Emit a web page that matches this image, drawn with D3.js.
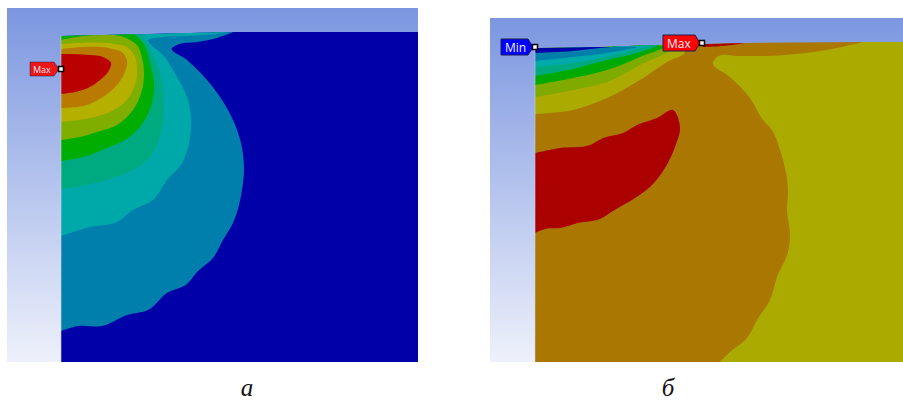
<!DOCTYPE html>
<html>
<head>
  <meta charset="utf-8">
  <title>contours</title>
  <script src="https://cdn.jsdelivr.net/npm/d3@7"></script>
  <style type="text/css">
    html, body { margin: 0; padding: 0; background: white; }
    svg { display: block; }
  </style>
</head>
<body>
<script>
// contour band outlines, in model units (depth axis runs down)
var aPlate = [[0,4],[172,0],[357,0],[357,330],[0,330]];
var aBlue2 = [[0,4],[89,2],[172,0],[156,6],[136,10],[116,13],[111,16],[126,28],[146,48],[159,65],[172,88],[180,111],[183,138],[181,158],[172,191],[162,208],[152,226],[136,240],[126,252],[106,261],[87,278],[66,283],[41,294],[17,294],[0,299]];
var aTeal = [[0,4],[89,2],[167,0],[159,1.5],[132,3.5],[102,5],[87,8],[102,23],[116,45],[126,65],[130,85],[129,105],[121,131],[106,148],[92,168],[72,178],[56,190],[29,195],[0,204]];
var aTealGreen = [[0,4],[79,2],[86,11],[97,35],[102,58],[103,85],[99,105],[89,125],[72,138],[52,146],[26,153],[0,157]];
var aGreen = [[0,4],[74,3],[82,11],[89,31],[93,51],[91,71],[82,91],[67,106],[46,116],[22,125],[0,129]];
var aYellowGreen = [[0,8],[67,7],[76,13],[81,26],[83,40],[81,58],[72,78],[56,93],[36,100],[19,105],[0,108]];
var aYellow = [[0,12],[54,12],[66,15],[73,23],[76,33],[76,43],[72,58],[64,70],[49,80],[29,86],[0,90]];
var aOrange = [[0,17],[52,17],[62,21],[66,28],[64,40],[56,53],[42,65],[26,73],[0,76]];
var aRed = [[0,22],[29,23],[42,25],[50,31],[47,40],[39,48],[27,56],[14,60],[0,62]];

var bPlate = [[0,6],[65,5],[122,3],[168,2],[210,1],[328,0],[368,0],[368,320],[0,320]];
var bYellowRight = [[328,0],[302,6],[278,10],[232,14],[205,14],[182,15],[178,20],[195,35],[215,56],[228,78],[237,88],[245,108],[253,148],[252,168],[255,195],[253,210],[242,235],[235,258],[222,278],[212,296],[195,310],[185,320],[368,320],[368,0]];
var bRed = [[0,111],[25,106],[55,103],[68,96],[88,91],[102,83],[122,76],[138,68],[145,85],[140,105],[130,126],[115,145],[100,156],[78,169],[65,177],[43,181],[25,186],[10,187],[0,191]];
var bRedStrip = [[168,2],[210,1],[187,4],[168,5]];
var bYellow = [[0,6],[65,5],[122,3],[145,3],[150,9],[132,20],[105,38],[72,56],[38,68],[0,72]];
var bYellowGreen = [[0,6],[65,5],[122,3],[138,5],[105,23],[72,40],[38,48],[0,55]];
var bGreen = [[0,6],[65,5],[122,3],[128,4],[105,15],[72,28],[38,36],[0,43]];
var bTealGreen = [[0,6],[65,5],[122,4],[102,11],[72,18],[38,27],[0,34]];
var bTeal = [[0,6],[65,5],[115,4],[98,8],[72,15],[38,21],[0,25]];
var bBlue2 = [[0,6],[65,5],[102,5],[72,11],[38,15],[0,19]];
var bBlue = [[0,6],[65,5],[75,5],[65,6],[38,9],[0,11]];

var aBands = [aBlue2, aTeal, aTealGreen, aGreen, aYellowGreen, aYellow, aOrange, aRed];
var aColors = ['#007fad', '#00a9a9', '#00aa80', '#00ad00', '#7fad00', '#b5b000', '#b87a00', '#ba0000'];

var bBands = [bYellowRight, bRed, bRedStrip, bYellow, bYellowGreen, bGreen, bTealGreen, bTeal, bBlue2, bBlue];
var bColors = ['#aaaa00', '#aa0000', '#aa0000', '#aaaa00', '#7faa00', '#00aa00', '#00aa7f', '#00aaaa', '#007faa', '#0000aa'];

var aProbes = [{name: 'Max', at: [0, 37], fill: '#ee1515'}];
var bProbes = [{name: 'Min', at: [0, 5], fill: '#0000ff'}, {name: 'Max', at: [167, 1], fill: '#ff0000'}];

var captions = ['а', 'б'];

var width = 903, height = 402;
var svg = d3.select('body').append('svg').attr('width', width).attr('height', height);
var defs = svg.append('defs');

var blur = defs.append('filter').attr('id', 'soft')
  .attr('x', '-5%').attr('y', '-5%').attr('width', '110%').attr('height', '110%');
blur.append('feGaussianBlur').attr('stdDeviation', 0.7);

function drawPanel(id, box, plotLeft, plotTop, xMax, yMax, plate, plateColor, bands, colors, probes, caption, captionX, soft) {
  var x = d3.scaleLinear().domain([0, xMax]).range([plotLeft, box.right]);
  var y = d3.scaleLinear().domain([0, yMax]).range([plotTop, box.bottom]);
  var straight = d3.line().x(function (d) { return x(d[0]); }).y(function (d) { return y(d[1]); });
  var smooth = d3.line().x(function (d) { return x(d[0]); }).y(function (d) { return y(d[1]); })
    .curve(d3.curveCatmullRom.alpha(1));

  var grad = defs.append('linearGradient').attr('id', id + '-bg')
    .attr('x1', 0).attr('y1', 0).attr('x2', 0).attr('y2', 1);
  grad.append('stop').attr('offset', 0).attr('stop-color', '#7c97e0');
  grad.append('stop').attr('offset', 1).attr('stop-color', '#eef1fb');

  svg.append('rect')
    .attr('x', box.left).attr('y', box.top)
    .attr('width', box.right - box.left).attr('height', box.bottom - box.top)
    .attr('fill', 'url(#' + id + '-bg)');

  // bands are smoothed, so keep them inside the plate outline
  defs.append('clipPath').attr('id', id + '-clip')
    .append('path').attr('d', straight(plate) + 'Z');

  var g = svg.append('g');
  if (soft) g.attr('filter', 'url(#soft)');

  g.append('path').attr('d', straight(plate) + 'Z').attr('fill', plateColor);

  g.append('g').attr('clip-path', 'url(#' + id + '-clip)')
    .selectAll('path.band')
    .data(bands)
    .enter().append('path')
    .attr('class', 'band')
    .attr('d', function (d) { return smooth(d) + 'Z'; })
    .attr('fill', function (d, i) { return colors[i]; });

  // faint edge along the symmetry axis
  g.append('path')
    .attr('d', straight([[0, plate[0][1]], [0, yMax]]))
    .attr('stroke', '#c8cfe0').attr('stroke-opacity', 0.6).attr('fill', 'none');

  // pointer tags; the little square sits on the probed point
  var labelG = svg.append('g');
  if (soft) labelG.attr('filter', 'url(#soft)');
  var tag = labelG.selectAll('g.probe')
    .data(probes)
    .enter().append('g')
    .attr('class', 'probe')
    .attr('transform', function (d) { return 'translate(' + x(d.at[0]) + ',' + y(d.at[1]) + ')'; });

  var h = soft ? 7 : 8;
  function tagWidth(d) { return soft ? 31 : (d.name === 'Min' ? 34 : 39); }
  tag.append('path')
    .attr('d', function (d) {
      var w = tagWidth(d);
      return 'M-2,0 L-7,' + (-h) + ' L' + (-w) + ',' + (-h) + ' L' + (-w) + ',' + h + ' L-7,' + h + ' Z';
    })
    .attr('fill', function (d) { return d.fill; })
    .attr('stroke', '#1a2050')
    .attr('stroke-width', soft ? 0.5 : 1);
  tag.append('text')
    .attr('x', function (d) { return -tagWidth(d) + (soft ? 3 : 4); })
    .attr('y', soft ? 3.5 : 4.5)
    .attr('font-family', '"Open Sans", sans-serif')
    .attr('font-size', soft ? 9 : 12)
    .attr('fill', '#f0f0ff')
    .text(function (d) { return d.name; });
  tag.append('rect')
    .attr('x', -2.5).attr('y', -2.5).attr('width', 5).attr('height', 5)
    .attr('fill', 'white').attr('stroke', 'black').attr('stroke-width', 1.5);

  svg.append('text')
    .attr('x', captionX).attr('y', 396)
    .attr('text-anchor', 'middle')
    .attr('font-family', '"Liberation Serif", serif')
    .attr('font-style', 'italic')
    .attr('font-size', 25)
    .attr('fill', '#111')
    .text(caption);
}

drawPanel('a', {left: 7, right: 418, top: 8, bottom: 362}, 61, 32, 357, 330, aPlate, '#0000a9', aBands, aColors, aProbes, captions[0], 247, true);
drawPanel('b', {left: 490, right: 903, top: 18, bottom: 362}, 535, 42, 368, 320, bPlate, '#aa7700', bBands, bColors, bProbes, captions[1], 668, false);
</script>
</body>
</html>
